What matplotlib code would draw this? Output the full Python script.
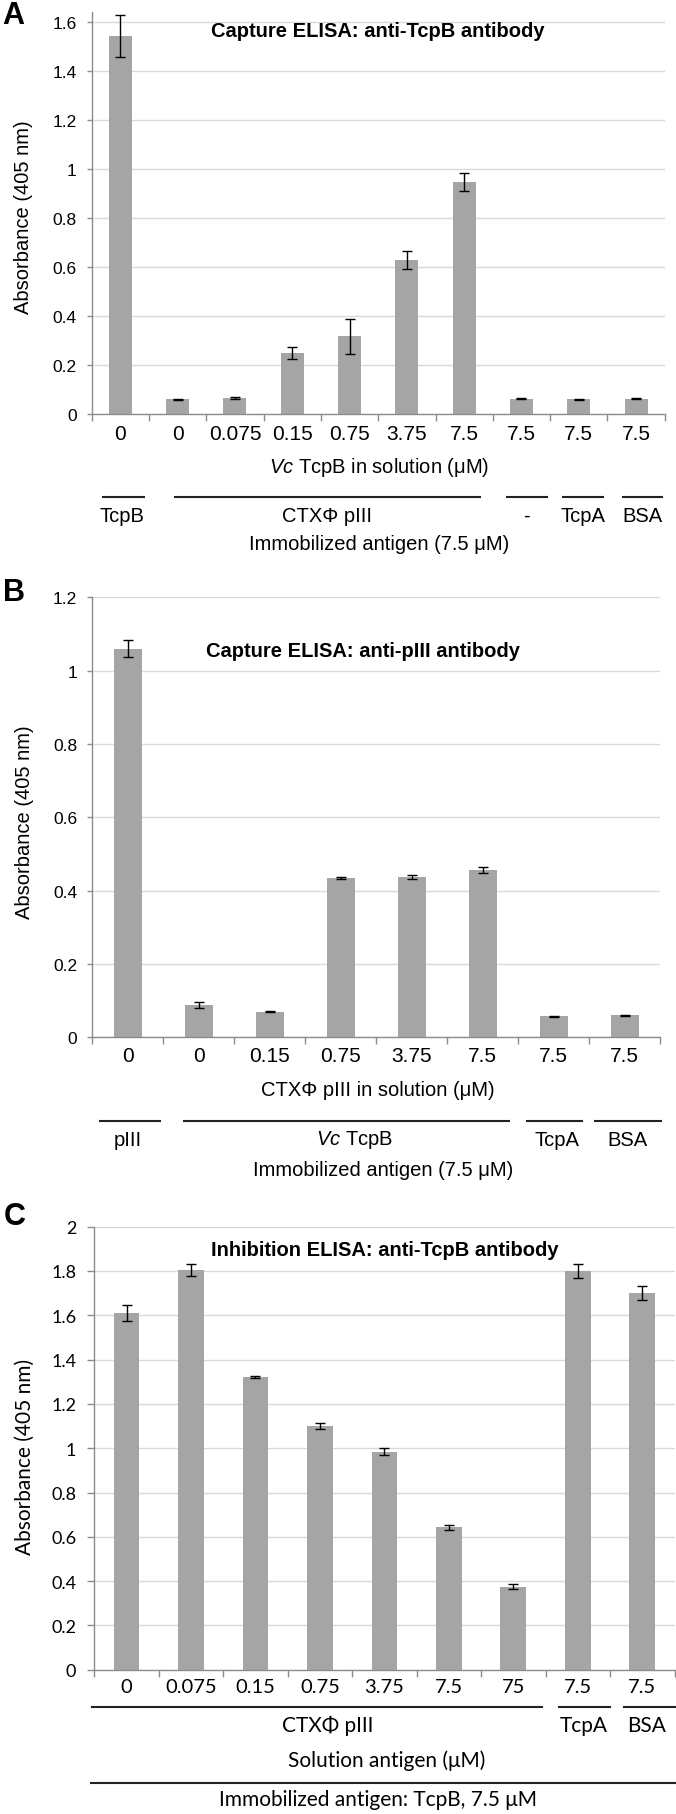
import numpy as np
import matplotlib
matplotlib.use("Agg")
import matplotlib.pyplot as plt
from matplotlib.lines import Line2D

# ---- datos ----
a_labels = ["0", "0", "0.075", "0.15", "0.75", "3.75", "7.5", "7.5", "7.5", "7.5"]
a_vals = [1.54, 0.06, 0.065, 0.25, 0.317, 0.628, 0.946, 0.063, 0.06, 0.062]
a_err = [0.086, 0.003, 0.005, 0.024, 0.071, 0.036, 0.035, 0.002, 0.002, 0.002]

b_labels = ["0", "0", "0.15", "0.75", "3.75", "7.5", "7.5", "7.5"]
b_vals = [1.06, 0.088, 0.070, 0.435, 0.438, 0.457, 0.057, 0.060]
b_err = [0.023, 0.008, 0.002, 0.002, 0.006, 0.008, 0.002, 0.002]

c_labels = ["0", "0.075", "0.15", "0.75", "3.75", "7.5", "75", "7.5", "7.5"]
c_vals = [1.61, 1.805, 1.32, 1.10, 0.985, 0.643, 0.375, 1.80, 1.70]
c_err = [0.037, 0.027, 0.004, 0.012, 0.017, 0.011, 0.011, 0.033, 0.031]

plt.rcParams["mathtext.fontset"] = "custom"
plt.rcParams["mathtext.rm"] = "Liberation Sans"
plt.rcParams["mathtext.it"] = "Liberation Sans:italic"

W, H = 676, 1815
fig = plt.figure(figsize=(W / 100, H / 100), dpi=100)

ARIAL = ["Liberation Sans", "DejaVu Sans"]
CALI = ["Lato", "DejaVu Sans"]
BAR = "#a5a5a5"
AXC = "#8c8c8c"


def fx(x):
    return x / W


def fy(y):
    return 1 - y / H


def txt(x, y, s, size, fam=ARIAL, **kw):
    fig.text(fx(x), fy(y), s, fontsize=size, family=fam, ha="center", va="center", **kw)


def hline(x0, x1, y, lw=1.5):
    fig.add_artist(Line2D([fx(x0), fx(x1)], [fy(y), fy(y)], color="#222222", lw=lw))


def panel(rect, labels, vals, err, ymax, ytop, ystep, fam, ysize, xsize,
          ytick_len, xtick_len, ypad, xpad, capsize):
    left, top, right, bottom = rect
    ax = fig.add_axes([fx(left), fy(bottom), (right - left) / W, (bottom - top) / H])
    x = np.arange(len(vals))
    ax.bar(x, vals, width=0.4, color=BAR, zorder=2)
    ax.errorbar(x, vals, yerr=err, fmt="none", ecolor="black", elinewidth=1,
                capsize=capsize, capthick=1, zorder=3)
    ax.set_xlim(-0.5, len(vals) - 0.5)
    ax.set_ylim(0, ytop)
    yt = np.round(np.arange(0, ymax + ystep / 2, ystep), 2)
    ax.set_yticks(yt)
    ax.set_yticklabels([("%g" % v) for v in yt], family=fam, fontsize=ysize)
    ax.set_xticks(x)
    ax.set_xticklabels(labels, family=fam, fontsize=xsize)
    ax.set_xticks(np.arange(len(vals) + 1) - 0.5, minor=True)
    ax.tick_params(axis="x", which="major", length=0, pad=xpad)
    ax.tick_params(axis="x", which="minor", length=xtick_len, color=AXC, width=1)
    ax.tick_params(axis="y", length=ytick_len, color=AXC, width=1, pad=ypad)
    ax.yaxis.grid(True, color="#d9d9d9", lw=1)
    ax.set_axisbelow(True)
    for s in ["top", "right"]:
        ax.spines[s].set_visible(False)
    for s in ["left", "bottom"]:
        ax.spines[s].set_color(AXC)
        ax.spines[s].set_linewidth(1)
    return ax


# ---- Panel A ----
panel((91.7, 12.6, 664.7, 415), a_labels, a_vals, a_err, 1.6, 1.641, 0.2,
      ARIAL, 12.5, 15, 3.3, 5, 7.5, 7.5, 3.6)
txt(13, 16, "A", 22, weight="bold")
txt(378, 31.7, "Capture ELISA: anti-TcpB antibody", 14.5, weight="bold")
txt(24, 216.7, "Absorbance (405 nm)", 14.5, rotation=90)
txt(378.8, 467.3, r"$\mathit{Vc}$ TcpB in solution (μM)", 14.5)
for x0, x1, xc, lab in [(102.6, 143.7, 122, "TcpB"), (175, 480, 327, "CTXΦ pIII"),
                        (506.5, 546.8, 526, "-"), (562.8, 603, 583, "TcpA"),
                        (622.5, 662.3, 642, "BSA")]:
    hline(x0, x1, 498.3)
    txt(xc, 516.7, lab, 14.5)
txt(378.8, 545, "Immobilized antigen (7.5 μM)", 14.5)

# ---- Panel B ----
panel((92.3, 598.3, 660.3, 1038.3), b_labels, b_vals, b_err, 1.2, 1.2, 0.2,
      ARIAL, 12.5, 15, 3.3, 5, 7.5, 6, 3.6)
txt(14, 593, "B", 22, weight="bold")
txt(362.7, 651.7, "Capture ELISA: anti-pIII antibody", 14.5, weight="bold")
txt(25, 822, "Absorbance (405 nm)", 14.5, rotation=90)
txt(377.7, 1090.4, "CTXΦ pIII in solution (μM)", 14.5)
for x0, x1, xc, lab in [(99.6, 159.7, 127.5, "pIII"), (184.5, 509.4, 354, r"$\mathit{Vc}$ TcpB"),
                        (527, 582, 557, "TcpA"), (595, 661, 627.5, "BSA")]:
    hline(x0, x1, 1121.5)
    txt(xc, 1140, lab, 14.5)
txt(383, 1171, "Immobilized antigen (7.5 μM)", 14.5)

# ---- Panel C ----
panel((94.3, 1227.7, 674.5, 1670.7), c_labels, c_vals, c_err, 2.0, 2.0, 0.2,
      CALI, 13, 14.5, 5, 5, 8, 6, 3.3)
txt(15, 1217, "C", 22, weight="bold")
txt(385, 1251, "Inhibition ELISA: anti-TcpB antibody", 14.5, weight="bold")
txt(25, 1457, "Absorbance (405 nm)", 15, fam=CALI, rotation=90)
for x0, x1, xc, lab in [(92, 542, 328, "CTXΦ pIII"), (559, 609.5, 583.5, "TcpA"),
                        (624, 674.5, 647, "BSA")]:
    hline(x0, x1, 1707.5)
    txt(xc, 1726, lab, 15, fam=CALI)
txt(386.6, 1760.5, "Solution antigen (μM)", 15, fam=CALI)
hline(91, 675, 1784)
txt(378, 1800, "Immobilized antigen: TcpB, 7.5 μM", 15, fam=CALI)

fig.savefig("out.png", dpi=100)
